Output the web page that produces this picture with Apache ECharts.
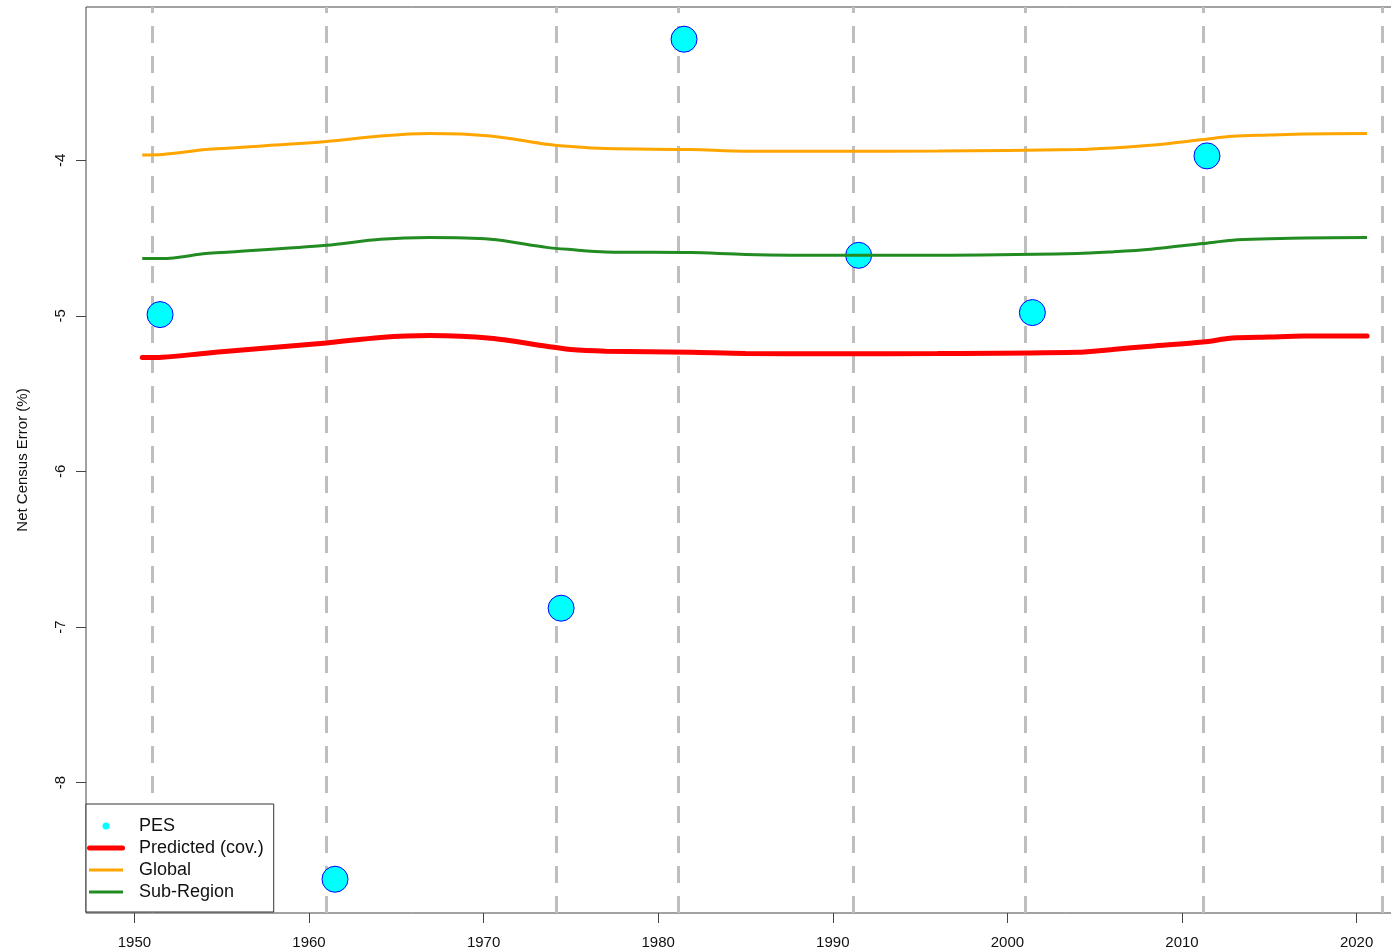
<!DOCTYPE html>
<html>
<head>
<meta charset="utf-8">
<title>Net Census Error</title>
<script src="https://cdn.jsdelivr.net/npm/echarts@6/dist/echarts.min.js"></script>
<style>
  html, body { margin: 0; padding: 0; background: #fff; }
  #chart { width: 1391px; height: 949px; }
</style>
</head>
<body>
<div id="chart"></div>
<script>
// Census reference years (vertical guides)
const censusYears = [1951.0, 1961.0, 1974.15, 1981.15, 1991.17, 2001.03, 2011.19, 2021.47];

// Post-enumeration survey estimates
const pesYears  = [1951.47, 1961.49, 1974.44, 1981.48, 1991.48, 2001.43, 2011.43];
const pesValues = [-4.992, -8.621, -6.879, -3.222, -4.611, -4.979, -3.972];

// Fitted curves, sampled on a common grid of years
const fitYears = [1950.45, 1951.6, 1954.1, 1955.5, 1961.0, 1964.1, 1966.9, 1970.4, 1973.6,
                  1975.0, 1977.0, 1981.9, 1985.0, 1990.0, 1996.0, 2004.0, 2006.0, 2008.2,
                  2011.2, 2012.9, 2015.0, 2017.0, 2020.6];
const predictedValues = [-5.268, -5.266, -5.240, -5.226, -5.174, -5.139, -5.127, -5.144, -5.195,
                         -5.217, -5.227, -5.234, -5.242, -5.243, -5.242, -5.234, -5.216, -5.195,
                         -5.168, -5.143, -5.136, -5.130, -5.130];
const globalValues = [-3.966, -3.963, -3.931, -3.921, -3.880, -3.844, -3.828, -3.844, -3.897,
                      -3.912, -3.925, -3.931, -3.942, -3.942, -3.940, -3.931, -3.921, -3.904,
                      -3.867, -3.846, -3.838, -3.831, -3.828];
const subRegionValues = [-4.632, -4.632, -4.600, -4.590, -4.546, -4.508, -4.497, -4.508, -4.560,
                         -4.574, -4.589, -4.593, -4.605, -4.611, -4.611, -4.600, -4.589, -4.572,
                         -4.535, -4.514, -4.505, -4.499, -4.497];

// Axis ticks
const xTicks = [1950, 1960, 1970, 1980, 1990, 2000, 2010, 2020];
const yTicks = [-8, -7, -6, -5, -4];

const pair = (xs, ys) => xs.map((x, i) => [x, ys[i]]);

const FONT = 'Liberation Sans, Arial, sans-serif';
const AXIS_COLOR = '#444';

// legend icons: 47x22 boxes, glyph drawn in the first 38px
const ICON_DOT  = 'path://M0,0M47,22M22.5,11A3.5,3.5,0,1,1,15.5,11A3.5,3.5,0,1,1,22.5,11Z';
const ICON_THICK = 'path://M0,0M47,22M2.5,8.5H35.5A2.5,2.5,0,0,1,35.5,13.5H2.5A2.5,2.5,0,0,1,2.5,8.5Z';
const ICON_THIN  = 'path://M0,0M47,22M2,9.5H36V12.5H2Z';

const chart = echarts.init(document.getElementById('chart'), null, { renderer: 'canvas' });

chart.setOption({
  animation: false,
  backgroundColor: '#fff',
  textStyle: { fontFamily: FONT },
  grid: {
    left: 86, top: 7, width: 1309, height: 906,
    outerBoundsMode: 'none',
    containLabel: false,
    show: true, borderColor: AXIS_COLOR, borderWidth: 1, backgroundColor: 'transparent'
  },
  xAxis: {
    type: 'value',
    min: 1947.228, max: 2022.2,
    axisLine: { show: false },
    splitLine: { show: false },
    axisTick: { show: true, length: 10, inside: false, customValues: xTicks,
                lineStyle: { color: AXIS_COLOR, width: 1 } },
    axisLabel: { customValues: xTicks, margin: 22, fontSize: 15, color: '#111', fontFamily: FONT,
                 formatter: v => String(Math.round(v)) }
  },
  yAxis: {
    type: 'value',
    min: -8.838, max: -3.015,
    name: 'Net Census Error (%)',
    nameLocation: 'middle',
    nameRotate: 90,
    nameGap: 56,
    nameTextStyle: { fontSize: 15, color: '#111', fontFamily: FONT },
    axisLine: { show: false },
    splitLine: { show: false },
    axisTick: { show: true, length: 10, inside: false, customValues: yTicks,
                lineStyle: { color: AXIS_COLOR, width: 1 } },
    axisLabel: { customValues: yTicks, rotate: 90, margin: 18, fontSize: 15, color: '#111', fontFamily: FONT,
                 formatter: v => String(Math.round(v)) }
  },
  legend: {
    orient: 'vertical',
    left: 86, top: 804,
    padding: [11, 10, 9, 1],
    itemWidth: 47, itemHeight: 22, itemGap: 0,
    backgroundColor: '#fff',
    borderColor: '#333', borderWidth: 1, borderRadius: 0,
    selectedMode: false,
    textStyle: { fontSize: 18, color: '#111', fontFamily: FONT },
    data: [
      { name: 'PES', icon: ICON_DOT, itemStyle: { color: '#00FFFF', borderWidth: 0, opacity: 1 } },
      { name: 'Predicted (cov.)', icon: ICON_THICK, itemStyle: { color: '#FF0000', borderWidth: 0 } },
      { name: 'Global', icon: ICON_THIN, itemStyle: { color: '#FFA500', borderWidth: 0 } },
      { name: 'Sub-Region', icon: ICON_THIN, itemStyle: { color: '#228B22', borderWidth: 0 } }
    ]
  },
  series: [
    {
      name: 'census',
      type: 'line',
      data: [],
      z: 1,
      silent: true,
      markLine: {
        z: 1,
        silent: true,
        symbol: 'none',
        animation: false,
        label: { show: false },
        lineStyle: { color: '#BEBEBE', width: 3, type: [17, 13] },
        emphasis: { disabled: true },
        data: censusYears.map(y => ({ xAxis: y }))
      }
    },
    {
      name: 'PES',
      type: 'scatter',
      z: 2,
      symbol: 'circle',
      symbolSize: 26,
      itemStyle: { color: '#00FFFF', borderColor: '#0000FF', borderWidth: 1, opacity: 1 },
      data: pair(pesYears, pesValues)
    },
    {
      name: 'Predicted (cov.)',
      type: 'line',
      z: 3,
      smooth: 0.3,
      showSymbol: false,
      color: '#FF0000',
      lineStyle: { color: '#FF0000', width: 5, cap: 'round' },
      data: pair(fitYears, predictedValues)
    },
    {
      name: 'Global',
      type: 'line',
      z: 3,
      smooth: 0.3,
      showSymbol: false,
      color: '#FFA500',
      lineStyle: { color: '#FFA500', width: 3 },
      data: pair(fitYears, globalValues)
    },
    {
      name: 'Sub-Region',
      type: 'line',
      z: 3,
      smooth: 0.3,
      showSymbol: false,
      color: '#228B22',
      lineStyle: { color: '#228B22', width: 3 },
      data: pair(fitYears, subRegionValues)
    }
  ]
});
</script>
</body>
</html>
